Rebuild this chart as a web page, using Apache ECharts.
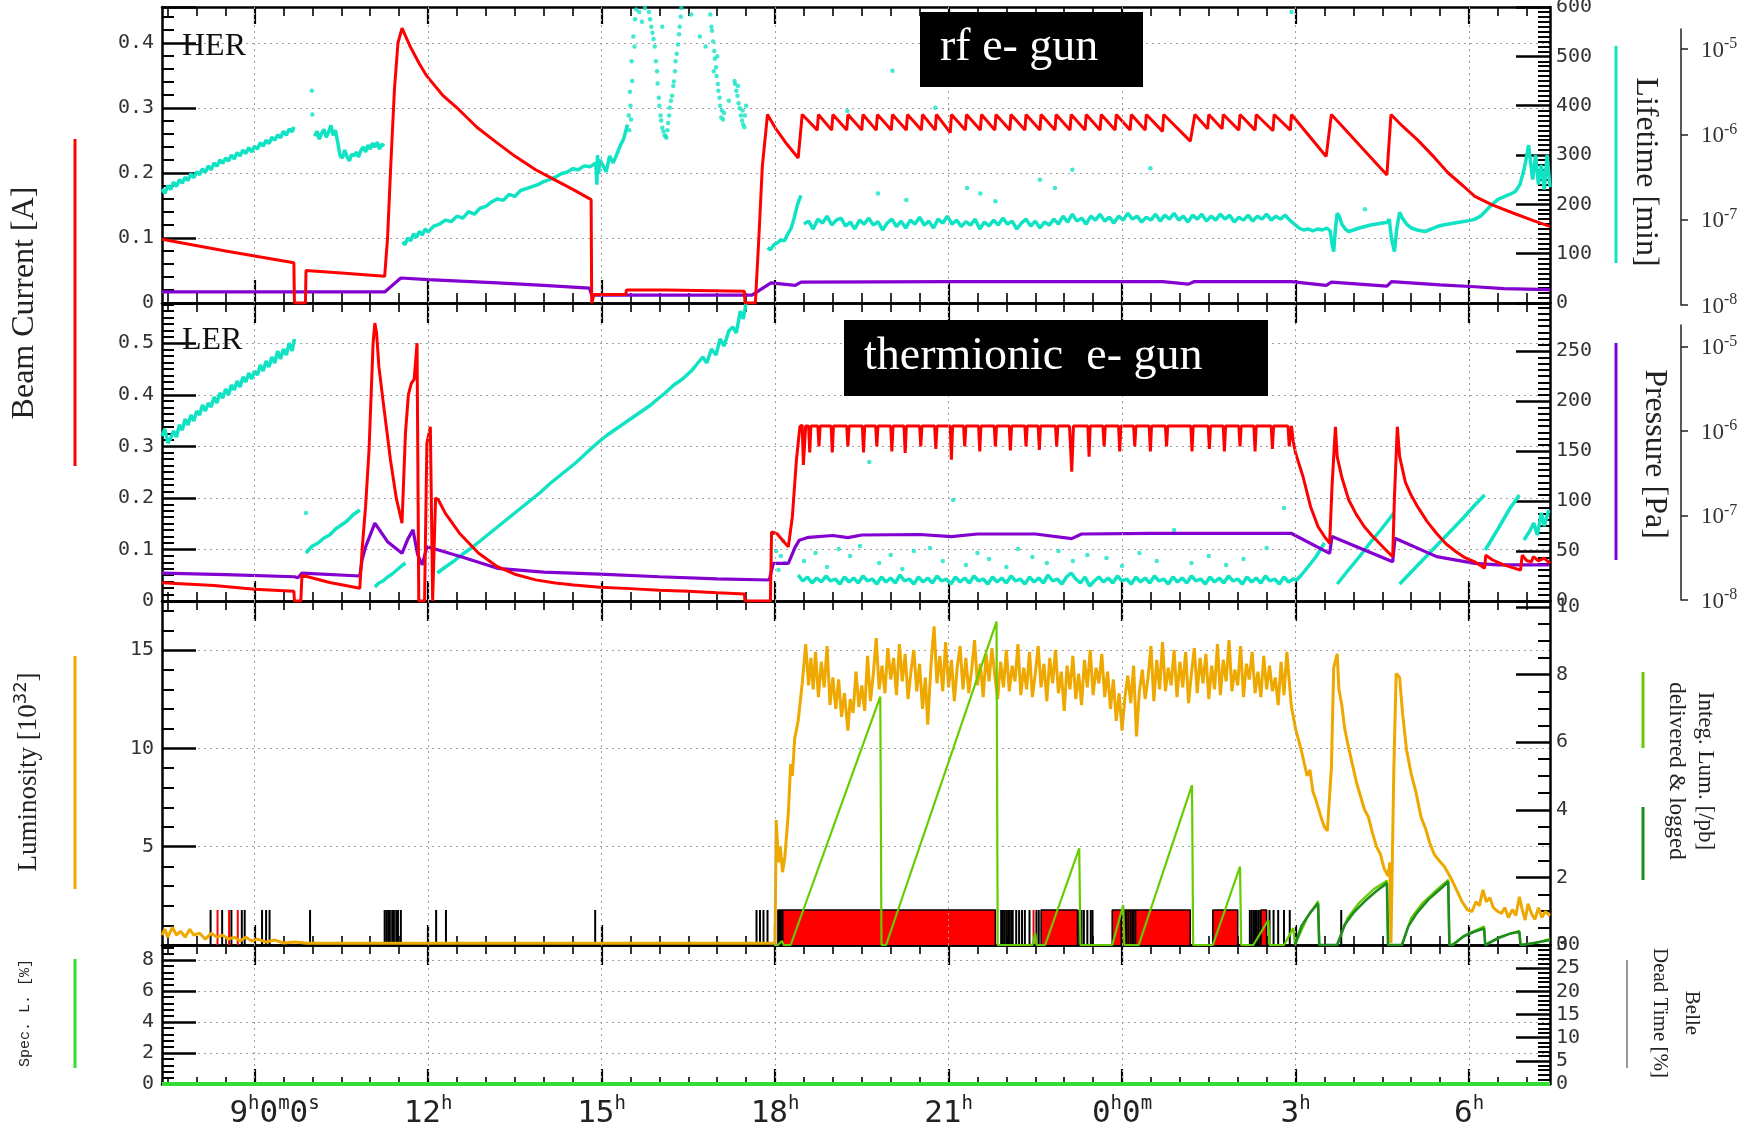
<!DOCTYPE html>
<html><head><meta charset="utf-8">
<script src="https://cdn.jsdelivr.net/npm/echarts@6/dist/echarts.min.js"></script>
<style>html,body{margin:0;padding:0;background:#fff}#c{width:1749px;height:1138px}</style>
</head><body><div id="c"></div>
<script>
// ---------------- DATA (time in hours, 24 = midnight) ----------------
const majorHours = [9,12,15,18,21,24,27,30];
const majorLabelParts = [['9','h','0','m','0','s'],['12','h'],['15','h'],['18','h'],['21','h'],['0','h','0','m'],['3','h'],['6','h']];
const minorHours = [7.5,8,8.5,9.5,10,10.5,11,11.5,12.5,13,13.5,14,14.5,15.5,16,16.5,17,17.5,18.5,19,19.5,20,20.5,21.5,22,22.5,23,23.5,24.5,25,25.5,26,26.5,27.5,28,28.5,29,29.5,30.5,31];

// HER beam current [A]
const herCurrent = [[7.40,0.098],[8.50,0.080],[9.68,0.062],[9.69,0.0],[9.88,0.0],[9.89,0.050],[10.50,0.046],[11.25,0.041],
[11.30,0.10],[11.36,0.22],[11.42,0.33],[11.48,0.40],[11.55,0.423],[11.70,0.393],[11.85,0.368],[11.98,0.349],[12.25,0.320],[12.54,0.297],[12.85,0.270],[13.20,0.246],[13.50,0.226],[13.86,0.205],[14.20,0.189],[14.52,0.174],[14.82,0.159],
[14.83,0.0],[14.86,0.0],[14.87,0.013],[15.42,0.013],[15.43,0.020],[16.12,0.020],[16.13,0.018],[17.47,0.018],[17.48,0.0],[17.66,0.0],[17.72,0.10],[17.78,0.21],[17.87,0.290],
[18.00,0.270],[18.20,0.245],[18.40,0.223],[18.47,0.290],
[18.73,0.266],[18.75,0.290],[18.98,0.266],[19.00,0.290],[19.24,0.266],[19.26,0.290],[19.50,0.266],[19.52,0.290],[19.75,0.266],[19.77,0.290],[20.01,0.266],[20.03,0.290],[20.27,0.266],[20.29,0.290],[20.53,0.266],[20.55,0.290],[20.77,0.266],[20.79,0.290],[21.03,0.262],[21.05,0.290],[21.29,0.266],[21.31,0.290],[21.55,0.266],[21.57,0.290],[21.80,0.266],[21.82,0.290],[22.06,0.266],[22.08,0.290],[22.32,0.266],[22.34,0.290],[22.58,0.266],[22.60,0.290],[22.84,0.266],[22.86,0.290],[23.10,0.266],[23.12,0.290],[23.36,0.266],[23.38,0.290],[23.62,0.266],[23.64,0.290],[23.88,0.266],[23.90,0.290],[24.14,0.266],[24.16,0.290],[24.40,0.266],[24.42,0.290],[24.70,0.264],[24.72,0.290],[25.18,0.249],[25.26,0.290],[25.48,0.268],[25.50,0.290],[25.73,0.268],[25.75,0.290],[26.02,0.266],[26.04,0.290],[26.30,0.266],[26.32,0.290],[26.61,0.265],[26.63,0.290],[26.91,0.266],[26.93,0.290],
[27.53,0.2255],[27.62,0.290],[28.58,0.197],[28.65,0.290],[28.85,0.272],[29.11,0.251],[29.40,0.224],[29.64,0.200],[29.90,0.180],[30.10,0.164],[30.40,0.151],[30.76,0.1385],[31.10,0.127],[31.40,0.118]];

// HER pressure (purple)
const herPressure = [[7.40,0.017],[9.00,0.017],[11.25,0.017],[11.53,0.0385],[12.00,0.036],[13.20,0.031],[14.00,0.027],[14.79,0.023],[14.83,0.012],[17.60,0.012],[17.93,0.031],[18.35,0.027],[18.45,0.032],[21.00,0.033],[24.70,0.033],[25.15,0.029],[25.25,0.033],[26.93,0.033],[27.53,0.027],[27.62,0.032],[28.58,0.026],[28.66,0.033],[29.50,0.028],[30.10,0.025],[30.60,0.022],[31.40,0.0205]];

// HER lifetime [min] (cyan), null = gap
const herLifetime = [[7.40,231],[7.45,222],[7.50,238],[7.55,230],[7.60,245],[7.65,236],[7.70,250],[7.75,243],[7.80,255],[7.85,248],[7.90,262],[7.95,254],[8.00,266],[8.05,260],[8.10,272],[8.15,265],[8.20,278],[8.25,270],[8.30,284],[8.35,277],[8.40,290],[8.45,283],[8.50,294],[8.55,288],[8.60,300],[8.65,292],[8.70,305],[8.75,298],[8.80,310],[8.85,303],[8.90,315],[8.95,306],[9.00,318],[9.05,312],[9.10,325],[9.15,318],[9.20,330],[9.25,323],[9.30,336],[9.35,330],[9.40,341],[9.45,335],[9.50,348],[9.55,340],[9.60,353],[9.65,347],[9.68,357],null,
[10.04,338],[10.08,348],[10.12,332],[10.16,344],[10.20,352],[10.24,336],[10.28,346],[10.32,360],[10.36,340],[10.40,350],[10.44,325],[10.48,298],[10.52,294],[10.56,310],[10.60,296],[10.64,288],[10.68,302],[10.72,298],[10.76,306],[10.80,296],[10.84,310],[10.88,316],[10.92,306],[10.96,320],[11.00,312],[11.04,324],[11.08,316],[11.12,326],[11.16,312],[11.20,322],[11.24,318],null,
[11.56,124],[11.60,118],[11.65,132],[11.70,126],[11.75,140],[11.80,133],[11.85,145],[11.90,138],[11.95,150],[12.00,144],[12.10,156],[12.20,160],[12.30,168],[12.40,165],[12.50,176],[12.60,172],[12.70,185],[12.80,180],[12.90,192],[13.00,196],[13.10,205],[13.20,211],[13.30,208],[13.40,220],[13.50,216],[13.60,228],[13.70,232],[13.80,236],[13.90,240],[14.00,246],[14.10,250],[14.20,255],[14.30,262],[14.40,265],[14.50,272],[14.60,270],[14.70,278],[14.80,276],[14.90,284],[14.92,240],[14.93,300],[14.95,262],[14.97,290],
[15.02,280],[15.08,266],[15.14,298],[15.20,284],[15.26,300],[15.32,318],[15.38,332],[15.45,362],null,
[17.87,112],[17.92,108],[17.98,118],[18.04,122],[18.10,128],[18.16,126],[18.22,140],[18.28,152],[18.33,172],[18.38,196],[18.42,210],[18.45,218],null,
[18.50,160],[18.58,166],[18.66,150],[18.74,170],[18.82,162],[18.90,176],[18.98,158],[19.06,168],[19.14,172],[19.22,156],[19.30,164],[19.38,150],[19.46,168],[19.54,160],[19.62,172],[19.70,158],[19.78,165],[19.86,148],[19.94,162],[20.02,170],[20.10,155],[20.18,166],[20.26,152],[20.34,168],[20.42,160],[20.50,174],[20.58,158],[20.66,166],[20.74,152],[20.82,170],[20.90,162],[20.98,176],[21.06,160],[21.14,168],[21.22,155],[21.30,165],[21.38,158],[21.46,170],[21.54,150],[21.62,164],[21.70,156],[21.78,168],[21.86,158],[21.94,172],[22.02,160],[22.10,166],[22.18,150],[22.26,162],[22.34,170],[22.42,156],[22.50,166],[22.58,152],[22.66,164],[22.74,158],[22.82,170],[22.90,160],[22.98,176],[23.06,164],[23.14,180],[23.22,166],[23.30,172],[23.38,160],[23.46,176],[23.54,168],[23.62,180],[23.70,166],[23.78,174],[23.86,162],[23.94,176],[24.02,168],[24.10,182],[24.18,170],[24.26,176],[24.34,164],[24.42,174],[24.50,168],[24.58,180],[24.66,166],[24.74,178],[24.82,170],[24.90,182],[24.98,168],[25.06,176],[25.14,164],[25.22,178],[25.30,170],[25.38,180],[25.46,166],[25.54,176],[25.62,168],[25.70,180],[25.78,170],[25.86,178],[25.94,164],[26.02,174],[26.10,168],[26.18,178],[26.26,166],[26.34,176],[26.42,170],[26.50,180],[26.58,168],[26.66,176],[26.74,170],[26.82,178],[26.90,168],
[26.98,160],[27.06,152],[27.14,148],[27.22,150],[27.30,146],[27.38,150],[27.46,148],[27.54,152],[27.60,146],[27.63,120],[27.66,104],[27.69,150],[27.72,182],[27.76,175],[27.80,160],[27.86,150],[27.92,145],[28.00,148],[28.10,152],[28.20,155],[28.30,158],[28.40,160],[28.50,162],[28.58,163],[28.62,170],[28.66,130],[28.71,104],[28.75,150],[28.80,184],[28.85,172],[28.92,160],[29.00,152],[29.10,148],[29.24,145],[29.35,150],[29.45,155],[29.55,158],[29.65,160],[29.75,162],[29.85,164],[29.95,166],[30.05,168],[30.10,170],[30.20,176],[30.30,188],[30.40,200],[30.50,210],[30.60,215],[30.70,220],[30.80,226],[30.88,240],[30.95,270],[31.00,300],[31.03,320],[31.06,290],[31.10,250],[31.15,300],[31.20,240],[31.25,280],[31.30,230],[31.35,300],[31.40,235]];
const herLifetimeDots = [[9.99,430],[10.00,382],
[15.47,380],[15.48,350],[15.49,428],[15.50,400],[15.51,372],[15.52,490],[15.53,450],[15.55,540],[15.57,520],[15.58,575],[15.60,595],[15.65,590],[15.70,570],[15.75,598],
[15.82,590],[15.84,575],[15.86,560],[15.88,548],[15.90,535],[15.92,520],[15.94,490],[15.96,470],[15.97,445],[15.99,416],[16.00,400],[16.02,380],[16.03,370],[16.05,355],[16.07,348],[16.09,340],[16.11,338],[16.12,335],[16.14,350],[16.15,365],[16.17,380],[16.18,396],[16.20,410],[16.22,420],[16.24,440],[16.25,449],[16.27,470],[16.28,490],[16.30,505],[16.32,524],[16.34,545],[16.35,560],[16.37,580],[16.38,598],[16.05,560],[16.55,585],
[16.70,540],[16.80,520],[16.88,585],[16.90,560],[16.91,552],[16.93,530],[16.94,470],[16.95,511],[16.96,495],[16.98,478],[16.99,460],[17.00,500],[17.01,444],[17.02,430],[17.04,416],[17.05,400],[17.07,376],[17.08,390],[17.10,372],[17.12,385],[17.20,410],
[17.30,450],[17.31,444],[17.33,430],[17.35,420],[17.36,440],[17.37,405],[17.39,395],[17.41,380],[17.43,370],[17.44,390],[17.45,362],[17.47,356],[17.48,380],[17.50,400],
[19.25,389],[19.78,222],[20.03,471],[20.27,209],[20.77,396],[21.32,233],[21.55,222],[21.81,206],[22.58,250],[22.84,233],[23.14,270],[24.49,273],[26.93,590],[28.20,190]];

// LER beam current [A]
const lerCurrent = [[7.40,0.0355],[8.30,0.030],[8.31,0.027],[9.00,0.023],[9.68,0.019],[9.69,0.0],[9.80,0.0],[9.82,0.050],[10.30,0.036],[10.82,0.0246],
[10.86,0.10],[10.92,0.183],[10.98,0.293],[11.05,0.50],[11.08,0.539],[11.11,0.52],[11.15,0.455],[11.22,0.39],[11.35,0.274],[11.45,0.20],[11.55,0.151],[11.61,0.326],[11.66,0.40],[11.71,0.422],[11.76,0.43],[11.81,0.50],[11.84,0.0],[11.94,0.0],[11.98,0.306],[12.04,0.338],[12.08,0.0],[12.10,0.0],[12.13,0.20],[12.18,0.196],[12.30,0.170],[12.54,0.132],[12.87,0.093],[13.20,0.0666],[13.50,0.052],[13.86,0.041],[14.20,0.035],[14.52,0.031],[14.97,0.0265],[15.50,0.024],[16.00,0.021],[16.50,0.019],[17.00,0.016],[17.47,0.0136],[17.48,0.0],[17.92,0.0],[17.94,0.134],[18.04,0.13],[18.13,0.118],[18.23,0.105],[18.30,0.164],[18.37,0.274],[18.43,0.338],
[18.47,0.3415],[18.49,0.264],[18.53,0.3395],[18.58,0.3395],[18.60,0.288],[18.62,0.3395],[18.74,0.3395],[18.76,0.30],[18.78,0.3395],[18.97,0.3395],[18.99,0.288],[19.01,0.3395],[19.24,0.3395],[19.26,0.30],[19.28,0.3395],[19.51,0.3395],[19.53,0.288],[19.55,0.3395],[19.74,0.3395],[19.76,0.30],[19.78,0.3395],[20.00,0.3395],[20.02,0.29],[20.04,0.3395],[20.23,0.3395],[20.25,0.287],[20.27,0.3395],[20.50,0.3395],[20.52,0.30],[20.54,0.3395],[20.76,0.3395],[20.78,0.295],[20.80,0.3395],[21.03,0.3395],[21.05,0.274],[21.07,0.3395],[21.26,0.3395],[21.28,0.30],[21.30,0.3395],[21.52,0.3395],[21.54,0.29],[21.56,0.3395],[21.79,0.3395],[21.81,0.30],[21.83,0.3395],[22.05,0.3395],[22.07,0.292],[22.09,0.3395],[22.32,0.3395],[22.34,0.30],[22.36,0.3395],[22.55,0.3395],[22.57,0.293],[22.59,0.3395],[22.85,0.3395],[22.87,0.30],[22.89,0.3395],[23.09,0.3395],[23.11,0.30],[23.13,0.251],[23.16,0.3395],[23.41,0.3395],[23.43,0.28],[23.45,0.3395],[23.67,0.3395],[23.69,0.30],[23.71,0.3395],[23.94,0.3395],[23.96,0.29],[23.98,0.3395],[24.20,0.3395],[24.22,0.30],[24.24,0.3395],[24.47,0.3395],[24.49,0.29],[24.51,0.3395],[24.75,0.3395],[24.77,0.30],[24.79,0.3395],[25.19,0.3395],[25.21,0.29],[25.23,0.3395],[25.49,0.3395],[25.51,0.295],[25.53,0.3395],[25.75,0.3395],[25.77,0.29],[25.79,0.3395],[26.02,0.3395],[26.04,0.30],[26.06,0.3395],[26.28,0.3395],[26.30,0.29],[26.32,0.3395],[26.58,0.3395],[26.60,0.295],[26.62,0.3395],[26.87,0.3395],[26.89,0.30],[26.93,0.3395],
[26.96,0.31],[27.00,0.287],[27.13,0.241],[27.26,0.183],[27.39,0.144],[27.50,0.125],[27.59,0.112],[27.63,0.22],[27.66,0.28],[27.69,0.338],[27.72,0.28],[27.80,0.24],[27.92,0.196],[28.05,0.168],[28.19,0.144],[28.32,0.127],[28.45,0.112],[28.57,0.098],[28.68,0.086],[28.71,0.20],[28.76,0.338],[28.80,0.28],[28.90,0.23],[29.00,0.205],[29.11,0.183],[29.27,0.155],[29.44,0.131],[29.60,0.111],[29.77,0.096],[29.93,0.084],[30.10,0.076],[30.27,0.0634],[30.29,0.089],[30.40,0.080],[30.60,0.070],[30.89,0.060],[30.92,0.089],[31.00,0.078],[31.08,0.076],[31.11,0.086],[31.20,0.078],[31.30,0.083],[31.40,0.073]];

// LER pressure (purple)
const lerPressure = [[7.40,0.054],[8.50,0.051],[9.69,0.047],[9.75,0.045],[9.82,0.054],[10.82,0.0485],[10.86,0.08],[10.92,0.105],[11.08,0.151],[11.30,0.115],[11.55,0.0925],[11.65,0.12],[11.74,0.138],[11.82,0.09],[11.90,0.07],[11.98,0.105],[12.18,0.099],[12.60,0.085],[13.20,0.0634],[14.00,0.056],[14.97,0.052],[16.00,0.047],[17.00,0.043],[17.90,0.0407],[17.97,0.073],[18.23,0.073],[18.35,0.105],[18.42,0.118],[18.58,0.1235],[19.00,0.127],[19.26,0.123],[19.50,0.128],[20.50,0.129],[21.05,0.125],[21.50,0.130],[22.50,0.130],[23.13,0.121],[23.30,0.130],[24.50,0.131],[25.50,0.131],[26.93,0.131],[27.59,0.0925],[27.63,0.125],[28.68,0.076],[28.72,0.1217],[29.44,0.086],[30.10,0.073],[30.50,0.070],[31.38,0.070]];

// LER lifetime (cyan), null = gap
const lerLifetime = [[7.40,165],[7.45,172],[7.50,158],[7.55,163],[7.60,170],[7.65,164],[7.70,176],[7.75,171],[7.80,182],[7.85,176],[7.90,186],[7.95,180],[8.00,190],[8.05,186],[8.10,196],[8.15,190],[8.20,198],[8.25,194],[8.30,204],[8.35,198],[8.40,208],[8.45,203],[8.50,212],[8.55,206],[8.60,216],[8.65,211],[8.70,220],[8.75,214],[8.80,224],[8.85,219],[8.90,228],[8.95,222],[9.00,230],[9.05,226],[9.10,236],[9.15,230],[9.20,240],[9.25,234],[9.30,244],[9.35,238],[9.40,250],[9.45,242],[9.50,252],[9.55,246],[9.60,258],[9.65,250],[9.69,262],null,
[9.89,48],[9.95,52],[10.00,55],[10.10,58],[10.20,63],[10.30,66],[10.40,72],[10.50,76],[10.60,80],[10.70,86],[10.82,91],null,
[11.08,14],[11.15,18],[11.22,20],[11.30,24],[11.38,27],[11.46,31],[11.54,35],[11.61,38],null,
[12.16,28],[12.30,34],[12.45,40],[12.60,47],[12.75,53],[12.90,60],[13.05,67],[13.20,74],[13.35,81],[13.50,88],[13.65,95],[13.80,102],[13.95,109],[14.10,117],[14.25,124],[14.40,131],[14.55,138],[14.70,146],[14.85,154],[14.97,160],[15.10,166],[15.25,172],[15.40,178],[15.55,184],[15.70,190],[15.85,196],[15.95,201],[16.10,208],[16.25,216],[16.40,222],[16.55,230],[16.61,234],[16.75,244],[16.82,238],[16.90,252],[16.98,246],[17.05,262],[17.12,255],[17.20,270],[17.27,274],[17.33,268],[17.40,290],[17.45,282],[17.52,305],null,
[18.40,26],[18.48,20],[18.56,24],[18.64,18],[18.72,23],[18.80,19],[18.88,25],[18.96,20],[19.04,22],[19.12,17],[19.20,24],[19.28,19],[19.36,23],[19.44,18],[19.52,25],[19.60,20],[19.68,22],[19.76,17],[19.84,24],[19.92,19],[20.00,23],[20.08,18],[20.16,26],[20.24,20],[20.32,22],[20.40,17],[20.48,24],[20.56,19],[20.64,23],[20.72,18],[20.80,25],[20.88,20],[20.96,22],[21.04,17],[21.12,24],[21.20,19],[21.28,23],[21.36,18],[21.44,25],[21.52,20],[21.60,22],[21.68,17],[21.76,24],[21.84,19],[21.92,23],[22.00,18],[22.08,25],[22.16,20],[22.24,22],[22.32,17],[22.40,24],[22.48,19],[22.56,23],[22.64,18],[22.72,26],[22.80,20],[22.88,22],[22.96,17],[23.04,24],[23.12,28],[23.20,22],[23.28,18],[23.36,24],[23.44,15],[23.52,20],[23.60,24],[23.68,19],[23.76,23],[23.84,18],[23.92,25],[24.00,20],[24.08,22],[24.16,17],[24.24,24],[24.32,19],[24.40,23],[24.48,18],[24.56,25],[24.64,20],[24.72,22],[24.80,17],[24.88,24],[24.96,19],[25.04,23],[25.12,18],[25.20,25],[25.28,20],[25.36,22],[25.44,17],[25.52,24],[25.60,19],[25.68,23],[25.76,18],[25.84,25],[25.92,20],[26.00,22],[26.08,17],[26.16,24],[26.24,19],[26.32,23],[26.40,18],[26.48,25],[26.56,20],[26.64,22],[26.72,17],[26.80,24],[26.88,19],[26.96,22],[27.02,21],[27.10,26],[27.20,33],[27.35,44],[27.50,58],null,
[27.72,17],[27.90,30],[28.10,44],[28.30,59],[28.50,73],[28.70,88],null,
[28.80,17],[29.00,29],[29.30,47],[29.60,65],[29.90,83],[30.10,96],[30.27,106],null,
[30.28,51],[30.50,72],[30.70,92],[30.87,106],null,
[30.95,61],[31.05,70],[31.12,78],[31.18,66],[31.25,88],[31.30,75],[31.38,91]];
const lerLifetimeDots = [[9.89,88],[17.98,68],[18.02,50],[18.06,31],[18.10,45],[18.14,60],[18.17,38],[18.50,40],[18.70,48],[18.90,34],[19.10,52],[19.30,45],[19.47,55],[19.63,139],[19.80,38],[20.00,46],[20.20,32],[20.40,50],[20.68,53],[20.90,40],[21.08,101],[21.30,36],[21.50,48],[21.70,42],[22.00,34],[22.20,52],[22.45,44],[22.70,38],[22.90,50],[23.15,40],[23.40,46],[23.73,43],[24.00,35],[24.30,48],[24.60,40],[24.90,71],[25.20,38],[25.50,45],[25.80,36],[26.10,42],[26.50,53],[26.80,93]];

// Luminosity [1e32] (orange)
const luminosity = [[7.40,0.5],[7.45,0.8],[7.50,0.4],[7.58,0.9],[7.65,0.5],[7.72,0.7],[7.80,0.4],[7.88,0.8],[7.95,0.5],[8.05,0.6],[8.15,0.3],[8.25,0.6],[8.35,0.4],[8.45,0.5],[8.55,0.3],[8.65,0.4],[8.75,0.2],[8.85,0.4],[8.95,0.2],[9.05,0.3],[9.20,0.15],[9.35,0.25],[9.50,0.1],[9.70,0.15],[9.90,0.09],[18.00,0.09],
[18.02,6.35],[18.06,4.2],[18.09,5.0],[18.13,3.7],[18.17,4.5],[18.23,6.7],[18.27,9.2],[18.30,8.6],[18.34,10.5],[18.40,11.4],[18.47,13.3],[18.53,15.3],
[18.58,13.2],[18.62,14.6],[18.66,13.0],[18.70,14.9],[18.75,12.6],[18.80,14.4],[18.85,13.1],[18.90,15.2],[18.95,12.2],[19.00,13.6],[19.05,12.0],[19.10,13.5],[19.15,11.6],[19.20,12.8],[19.26,10.9],[19.30,12.5],[19.35,11.8],[19.40,13.9],[19.45,12.1],[19.50,13.2],[19.55,11.9],[19.60,14.7],[19.65,12.4],[19.70,13.8],[19.75,15.6],[19.80,13.0],[19.85,14.2],[19.90,12.8],[19.95,15.1],[20.00,13.5],[20.05,14.6],[20.10,12.7],[20.15,15.3],[20.20,13.4],[20.25,14.8],[20.30,12.5],[20.35,13.9],[20.40,15.0],[20.45,12.9],[20.50,14.3],[20.55,12.0],[20.60,13.6],[20.64,11.2],[20.70,14.4],[20.75,16.2],[20.80,13.3],[20.85,14.7],[20.90,12.9],[20.95,15.4],[21.00,13.1],[21.05,14.5],[21.10,12.4],[21.15,14.1],[21.20,15.2],[21.25,13.0],[21.30,14.6],[21.35,12.8],[21.40,14.0],[21.45,15.5],[21.50,13.2],[21.55,14.3],[21.60,12.6],[21.65,14.8],[21.70,13.4],[21.75,15.1],[21.80,13.7],[21.85,12.5],[21.90,14.4],[21.95,13.1],[22.00,15.0],[22.05,12.9],[22.10,14.2],[22.15,13.4],[22.20,15.3],[22.25,12.7],[22.30,14.1],[22.35,13.0],[22.40,14.9],[22.45,12.6],[22.50,13.8],[22.55,15.2],[22.60,13.1],[22.65,14.3],[22.70,12.4],[22.75,14.6],[22.80,13.3],[22.85,15.0],[22.90,12.8],[22.95,13.9],[23.00,11.9],[23.05,14.2],[23.10,13.0],[23.15,14.7],[23.20,12.5],[23.25,13.8],[23.30,12.2],[23.35,14.5],[23.40,13.1],[23.45,15.0],[23.50,12.7],[23.55,14.1],[23.60,13.3],[23.65,14.8],[23.70,12.6],[23.75,13.9],[23.80,12.0],[23.85,13.5],[23.90,11.4],[23.95,12.8],[24.00,10.9],[24.05,12.6],[24.10,13.7],[24.15,12.3],[24.20,14.2],[24.25,10.6],[24.30,12.9],[24.35,14.0],[24.40,12.5],[24.45,13.6],[24.50,15.2],[24.55,12.4],[24.60,14.5],[24.65,13.0],[24.70,15.4],[24.75,12.9],[24.80,14.1],[24.85,13.2],[24.90,15.0],[24.95,12.6],[25.00,14.4],[25.05,13.1],[25.10,14.9],[25.15,12.3],[25.20,13.8],[25.25,15.1],[25.30,12.8],[25.35,14.6],[25.40,13.3],[25.45,14.8],[25.50,12.5],[25.55,14.2],[25.60,13.0],[25.65,15.3],[25.70,12.7],[25.75,14.5],[25.80,13.4],[25.85,15.5],[25.90,12.9],[25.95,14.0],[26.00,13.2],[26.05,15.2],[26.10,12.6],[26.15,14.3],[26.20,13.5],[26.25,14.9],[26.30,12.8],[26.35,13.9],[26.40,12.6],[26.45,14.7],[26.50,13.0],[26.55,14.2],[26.60,12.9],[26.65,13.6],[26.70,12.2],[26.75,14.4],[26.80,12.7],[26.85,14.9],[26.90,13.1],[26.93,12.1],
[27.00,11.0],[27.10,9.9],[27.20,8.6],[27.25,8.9],[27.30,7.8],[27.35,7.4],[27.44,6.5],[27.50,6.0],[27.55,5.8],[27.58,5.7],[27.62,9.0],[27.66,14.1],[27.72,14.8],[27.75,13.0],[27.80,12.2],[27.85,11.0],[27.92,10.0],[27.99,9.1],[28.05,8.3],[28.12,7.6],[28.19,6.9],[28.26,6.5],[28.33,5.7],[28.40,5.0],[28.47,4.6],[28.53,3.9],[28.60,3.5],[28.63,4.2],[28.65,0.1],[28.67,0.1],[28.70,9.0],[28.74,13.8],[28.80,13.6],[28.85,11.8],[28.92,9.9],[29.00,8.7],[29.08,7.8],[29.17,6.5],[29.25,5.9],[29.32,5.2],[29.40,4.6],[29.48,4.3],[29.57,4.0],[29.65,3.6],[29.72,3.2],[29.80,2.7],[29.88,2.2],[29.97,1.8],[30.05,1.7],[30.12,2.2],[30.18,2.0],[30.24,2.8],[30.30,2.2],[30.36,2.4],[30.42,1.9],[30.50,1.7],[30.56,1.6],[30.62,1.9],[30.68,1.4],[30.75,1.8],[30.81,1.5],[30.87,2.45],[30.92,1.8],[30.97,1.27],[31.02,2.1],[31.08,1.6],[31.14,1.3],[31.20,1.9],[31.26,1.4],[31.32,1.7],[31.40,1.5]];

// Integrated luminosity [/pb]
const integDelivered = [[17.98,0],[18.05,0],[18.12,0.12],[18.15,0],[18.27,0],[19.82,7.35],[19.84,0],[19.92,0],[21.83,9.57],[21.85,0],[22.45,0],[22.50,0.35],[22.52,0],[22.67,0],[23.26,2.86],[23.28,0],[23.83,0],[24.02,1.18],[24.04,0],[24.29,0],[25.21,4.73],[25.23,0],[25.57,0],[26.04,2.32],[26.06,0],[26.27,0],[26.53,0.74],[26.55,0],[26.80,0],[26.96,0.5],[26.99,0],[27.20,0.8],[27.39,1.3],[27.41,0],[27.72,0],[27.90,0.8],[28.10,1.25],[28.35,1.65],[28.58,1.9],[28.60,0],[28.84,0],[29.00,0.8],[29.20,1.25],[29.45,1.65],[29.64,1.93],[29.66,0],[29.70,0],[29.95,0.3],[30.26,0.55],[30.28,0],[30.55,0.25],[30.87,0.42],[30.89,0],[31.20,0.08],[31.40,0.18]];
const integLogged = [[26.99,0],[27.10,0.55],[27.25,0.95],[27.39,1.23],[27.41,0],[27.72,0],[27.85,0.6],[28.00,0.95],[28.20,1.3],[28.40,1.6],[28.58,1.83],[28.60,0],[28.84,0],[28.95,0.55],[29.10,0.95],[29.30,1.35],[29.50,1.65],[29.64,1.87],[29.66,0],[29.72,0],[29.90,0.25],[30.10,0.4],[30.26,0.49],[30.28,0],[30.50,0.2],[30.70,0.33],[30.87,0.39],[30.89,0],[31.10,0.05],[31.40,0.15]];

// Belle run status marks
const belleLevel = 1.78;
const belleRedSpans = [[18.05,21.81],[22.60,23.23],[23.83,25.18],[25.57,26.00],[26.40,26.50]];
const belleRedTicks = [8.36,8.56,8.71,22.47];
const belleBlackTicks = [8.24,8.44,8.60,8.78,8.83,9.13,9.20,9.26,9.96,11.25,11.28,11.31,11.34,11.38,11.41,11.45,11.48,11.53,12.14,12.31,14.89,17.68,17.74,17.80,17.87,18.07,18.10,18.13,21.91,21.94,21.97,22.00,22.03,22.06,22.09,22.11,22.17,22.22,22.27,22.32,22.40,22.52,22.56,23.26,23.30,23.34,23.40,23.46,23.49,23.99,24.03,24.07,24.11,24.15,24.19,24.23,26.21,26.24,26.27,26.30,26.33,26.36,26.39,26.55,26.62,26.70,26.80,26.90,27.79];

// Spec. L. [%]
const specL = [[7.40,0],[31.40,0]];

// ---------------- CHART ----------------
const C = {red:'#ff0000', purple:'#8400d0', cyan:'#10e3c4', orange:'#eea800', lgreen:'#66cc00', dgreen:'#1e8c1e', sgreen:'#33dd33'};
const dotted = {color:'#a0a0a0', type:[2,4], width:1};
const monoLabel = {fontFamily:'DejaVu Sans Mono', fontSize:20, color:'#333'};

function xLabel(v){
  const i = majorHours.indexOf(v);
  if (i < 0) return '';
  const body = majorLabelParts[i].map((t,k)=>'{'+(k%2?'s':'n')+'|'+t+'}').join('');
  return (i === 0 ? '{p|}' : '') + body;
}
function mkX(g, pos, major, len, showLabel){
  return {
    type:'value', gridIndex:g, position:pos, min:7.4, max:31.4,
    axisLine:{show:major, onZero:false, lineStyle:{color:'#000', width:2.5}},
    axisTick:{show:true, inside:true, length:len, customValues: major?majorHours:minorHours, lineStyle:{color:'#000', width: major?2.2:1.6}},
    minorTick:{show:false},
    axisLabel: showLabel ? {show:true, customValues:majorHours, margin:11, formatter:xLabel,
      rich:{n:{fontFamily:'DejaVu Sans Mono', fontSize:31, color:'#222', lineHeight:34, verticalAlign:'bottom'},
            s:{fontFamily:'DejaVu Sans Mono', fontSize:19, color:'#222', lineHeight:20, verticalAlign:'top'},
            p:{width:40, height:10}}} : {show:false},
    splitLine:{show:false}, minorSplitLine:{show:false}, splitArea:{show:false}
  };
}
const xAxes = [];
const tickLens = [[17,9,23,10],[20,9,20,9],[20,9,20,9],[20,9,15,7]]; // top major, top minor, bottom major, bottom minor
for (let g=0; g<4; g++){
  const L = tickLens[g];
  xAxes.push(mkX(g,'bottom',true,L[2],g===3));
  xAxes.push(mkX(g,'bottom',false,L[3],false));
  xAxes.push(mkX(g,'top',true,L[0],false));
  xAxes.push(mkX(g,'top',false,L[1],false));
}
xAxes.push({type:'value', gridIndex:4, show:false, min:0, max:1, splitLine:{show:false}});
xAxes.push({type:'value', gridIndex:5, show:false, min:0, max:1, splitLine:{show:false}});

function mkY(g, pos, max, interval, minorSplit, fmt, split, showMax){
  return {
    type:'value', gridIndex:g, position:pos, min:0, max:max, interval:interval,
    axisLine:{show:true, onZero:false, lineStyle:{color:'#000', width:2.5}},
    axisTick:{show:true, inside:true, length:34, lineStyle:{color:'#000', width:2.5}},
    minorTick:{show:true, splitNumber:minorSplit, length:12, lineStyle:{color:'#000', width:2}},
    axisLabel:Object.assign({margin: pos==='left'?8:6, formatter:fmt, showMaxLabel:showMax}, monoLabel),
    splitLine: split ? {show:true, lineStyle:dotted} : {show:false},
    minorSplitLine:{show:false}
  };
}
const fmt1 = v => v===0 ? '0' : v.toFixed(1);
const fmtInt = v => String(Math.round(v));
const fmtNoZero = v => v===0 ? '' : String(Math.round(v));
function logLabel(v){ return '{b|10}{e|' + Math.round(v) + '}'; }
function mkLog(g, max){
  return {
    type:'value', gridIndex:g, position:'right', min:-8, max:max, interval:1,
    axisLine:{show:true, onZero:false, lineStyle:{color:'#222', width:1.5}},
    axisTick:{show:true, inside:false, length:7, lineStyle:{color:'#222', width:1.5}},
    axisLabel:{margin:20, formatter:logLabel, showMaxLabel:false,
      rich:{b:{fontFamily:'Liberation Serif', fontSize:23, color:'#333', lineHeight:26, verticalAlign:'bottom'},
            e:{fontFamily:'Liberation Serif', fontSize:16, color:'#333', lineHeight:14, verticalAlign:'top'}}},
    splitLine:{show:false}
  };
}
const yAxes = [
  mkY(0,'left',0.4554,0.1,5,fmt1,true,false),
  mkY(0,'right',600,100,10,fmtInt,false,true),
  mkY(1,'left',0.578,0.1,8,fmt1,true,false),
  mkY(1,'right',298,50,8,fmtInt,false,false),
  mkY(2,'left',17.49,5,5,fmtNoZero,true,false),
  mkY(2,'right',10.18,2,4,fmtInt,false,false),
  mkY(3,'left',8.97,2,5,fmtInt,true,false),
  mkY(3,'right',30,5,5,fmtInt,false,true),
  mkLog(4,-4.764),
  mkLog(5,-4.746)
];

const gap = d => d===null ? ['-','-'] : d;
const redArea = [];
belleRedSpans.forEach(s => { redArea.push([s[0],0],[s[0],belleLevel],[s[1],belleLevel],[s[1],0]); });

const lineBase = {type:'line', showSymbol:false, symbol:'none', animation:false, connectNulls:false};
function vGrid(xi, yi){
  return Object.assign({}, lineBase, {xAxisIndex:xi, yAxisIndex:yi, data:[[7.4,0],[31.4,0]], lineStyle:{width:0, opacity:0}, z:1,
    markLine:{silent:true, animation:false, symbol:['none','none'], label:{show:false}, lineStyle:dotted,
      data: majorHours.map(h=>({xAxis:h}))}});
}
const series = [
  vGrid(0,0), vGrid(4,2), vGrid(8,4), vGrid(12,6),
  Object.assign({}, lineBase, {name:'HER lifetime', xAxisIndex:0, yAxisIndex:1, data:herLifetime.map(gap), lineStyle:{color:C.cyan, width:3.5}, z:2}),
  {type:'scatter', xAxisIndex:0, yAxisIndex:1, data:herLifetimeDots, symbolSize:4.5, itemStyle:{color:C.cyan}, z:2, animation:false},
  Object.assign({}, lineBase, {name:'HER pressure', xAxisIndex:0, yAxisIndex:0, data:herPressure, lineStyle:{color:C.purple, width:3.2}, z:3}),
  Object.assign({}, lineBase, {name:'HER current', xAxisIndex:0, yAxisIndex:0, data:herCurrent, lineStyle:{color:C.red, width:3}, z:4}),

  Object.assign({}, lineBase, {name:'LER lifetime', xAxisIndex:4, yAxisIndex:3, data:lerLifetime.map(gap), lineStyle:{color:C.cyan, width:3.5}, z:2}),
  {type:'scatter', xAxisIndex:4, yAxisIndex:3, data:lerLifetimeDots, symbolSize:4.5, itemStyle:{color:C.cyan}, z:2, animation:false},
  Object.assign({}, lineBase, {name:'LER pressure', xAxisIndex:4, yAxisIndex:2, data:lerPressure, lineStyle:{color:C.purple, width:3.2}, z:3}),
  Object.assign({}, lineBase, {name:'LER current', xAxisIndex:4, yAxisIndex:2, data:lerCurrent, lineStyle:{color:C.red, width:3}, z:4}),

  Object.assign({}, lineBase, {name:'Belle red', xAxisIndex:8, yAxisIndex:4, data:redArea, lineStyle:{color:'#000', width:1.5}, areaStyle:{color:'#ff0000', opacity:1}, z:2}),
  {type:'bar', name:'Belle black', xAxisIndex:8, yAxisIndex:4, data:belleBlackTicks.map(t=>[t,belleLevel]), barWidth:2, itemStyle:{color:'#000'}, z:2, animation:false},
  {type:'bar', name:'Belle red ticks', xAxisIndex:8, yAxisIndex:4, data:belleRedTicks.map(t=>[t,belleLevel]), barWidth:2, barGap:'-100%', itemStyle:{color:'#ff0000'}, z:2, animation:false},
  Object.assign({}, lineBase, {name:'Luminosity', xAxisIndex:8, yAxisIndex:4, data:luminosity, lineStyle:{color:C.orange, width:3}, z:3}),
  Object.assign({}, lineBase, {name:'Delivered', xAxisIndex:8, yAxisIndex:5, data:integDelivered, lineStyle:{color:C.lgreen, width:2.2}, z:4}),
  Object.assign({}, lineBase, {name:'Logged', xAxisIndex:8, yAxisIndex:5, data:integLogged, lineStyle:{color:C.dgreen, width:2.6}, z:5}),

  Object.assign({}, lineBase, {name:'Spec L', xAxisIndex:12, yAxisIndex:6, data:specL, lineStyle:{color:C.sgreen, width:4}, z:5})
];

const serif = 'Liberation Serif';
function vText(x, y, text, size, rot){
  return {type:'text', x:x, y:y, rotation:rot, silent:true, z:100,
    style:{text:text, x:0, y:0, fill:'#222', font: size+'px "'+serif+'"', align:'center', verticalAlign:'middle'}};
}
function vLine(x, y1, y2, color, w){
  return {type:'line', silent:true, z:100, shape:{x1:x, y1:y1, x2:x, y2:y2}, style:{stroke:color, lineWidth:w||3}};
}
const graphic = [
  vText(25, 303, 'Beam Current [A]', 32, Math.PI/2),
  vLine(75, 139, 466, C.red),
  {type:'text', x:27, y:772, rotation:Math.PI/2, silent:true, z:100,
   style:{text:'{a|Luminosity [10}{e|32}{a|]}', x:0, y:0, align:'center', verticalAlign:'middle',
     rich:{a:{fontFamily:serif, fontSize:27, fill:'#222', lineHeight:30, verticalAlign:'bottom'},
           e:{fontFamily:'DejaVu Sans', fontSize:18, fill:'#222', lineHeight:16, verticalAlign:'top'}}}},
  vLine(75, 656, 889, C.orange),
  {type:'text', x:25, y:1013, rotation:Math.PI/2, silent:true, z:100,
   style:{text:'Spec. L. [%]', x:0, y:0, fill:'#222', font:'15px "Liberation Mono"', align:'center', verticalAlign:'middle'}},
  vLine(75, 959, 1068, C.sgreen),
  vText(1645, 172, 'Lifetime [min]', 32, -Math.PI/2),
  vLine(1616, 46, 263, C.cyan),
  vText(1654, 454, 'Pressure [Pa]', 32, -Math.PI/2),
  vLine(1616, 343, 560, C.purple),
  {type:'text', x:1691, y:771, rotation:-Math.PI/2, silent:true, z:100,
   style:{text:'Integ. Lum. [/pb]\ndelivered & logged', x:0, y:0, fill:'#222', font:'23px "'+serif+'"', lineHeight:29, align:'center', verticalAlign:'middle'}},
  vLine(1643, 672, 748, C.lgreen),
  vLine(1643, 807, 880, C.dgreen),
  {type:'text', x:1676, y:1013, rotation:-Math.PI/2, silent:true, z:100,
   style:{text:'Belle\nDead Time [%]', x:0, y:0, fill:'#222', font:'21px "'+serif+'"', lineHeight:32, align:'center', verticalAlign:'middle'}},
  vLine(1627, 960, 1068, '#999', 2),
  {type:'text', x:182, y:47, silent:true, z:100, style:{text:'HER', x:0, y:0, fill:'#111', font:'32px "'+serif+'"', align:'left', verticalAlign:'middle'}},
  {type:'text', x:182, y:341, silent:true, z:100, style:{text:'LER', x:0, y:0, fill:'#111', font:'32px "'+serif+'"', align:'left', verticalAlign:'middle'}},
  {type:'rect', silent:true, z:100, shape:{x:920, y:12, width:223, height:75}, style:{fill:'#000'}},
  {type:'text', x:940, y:48, silent:true, z:101, style:{text:'rf e- gun', x:0, y:0, fill:'#fff', font:'46px "'+serif+'"', align:'left', verticalAlign:'middle'}},
  {type:'rect', silent:true, z:100, shape:{x:844, y:320, width:424, height:76}, style:{fill:'#000'}},
  {type:'text', x:864, y:357, silent:true, z:101, style:{text:'thermionic  e- gun', x:0, y:0, fill:'#fff', font:'46px "'+serif+'"', align:'left', verticalAlign:'middle'}}
];

const chart = echarts.init(document.getElementById('c'), null, {renderer:'canvas', width:1749, height:1138});
chart.setOption({
  animation:false,
  backgroundColor:'#fff',
  grid:[
    {left:162, top:7, width:1388, height:296, outerBoundsMode:'none'},
    {left:162, top:303, width:1388, height:298, outerBoundsMode:'none'},
    {left:162, top:601, width:1388, height:344, outerBoundsMode:'none'},
    {left:162, top:945, width:1388, height:139, outerBoundsMode:'none'},
    {left:1560, top:29, width:121, height:276, outerBoundsMode:'none'},
    {left:1560, top:325, width:121, height:275, outerBoundsMode:'none'}
  ],
  xAxis:xAxes,
  yAxis:yAxes,
  series:series,
  graphic:graphic
});
</script></body></html>
